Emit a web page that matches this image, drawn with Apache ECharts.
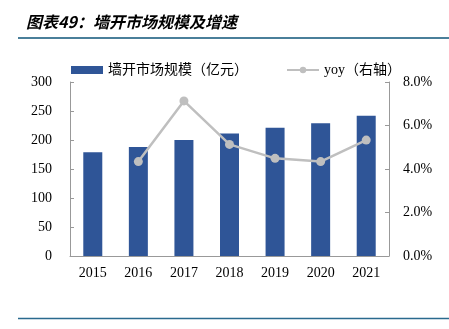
<!DOCTYPE html>
<html><head><meta charset="utf-8">
<script src="https://cdn.jsdelivr.net/npm/echarts@6/dist/echarts.min.js"></script>
<style>html,body{margin:0;padding:0;background:#fff}#c{width:449px;height:329px}</style>
</head><body><div id="c"></div>
<script>
const years = ['2015','2016','2017','2018','2019','2020','2021'];
const marketSize = [179, 188, 200, 211, 221, 229, 242];
const yoy = [null, 0.0434, 0.0713, 0.0513, 0.0449, 0.0434, 0.0533];
const leftTicks = {min: 0, max: 300, interval: 50};
const rightTicks = {min: 0, max: 0.08, interval: 0.02};

const chart = echarts.init(document.getElementById('c'), null, {renderer: 'canvas'});
const serif = '"Liberation Serif", "Times New Roman", serif';
const cjk = '"Liberation Serif", "Noto Sans CJK SC", serif';
chart.setOption({
  animation: false,
  title: {
    text: '图表49：墙开市场规模及增速',
    left: 21, top: 9,
    textStyle: {fontSize: 16, fontWeight: 'bold', fontStyle: 'italic', color: '#000', fontFamily: '"Noto Sans CJK SC", sans-serif'}
  },
  graphic: [
    {type: 'line', shape: {x1: 18, y1: 38, x2: 449, y2: 38}, style: {stroke: '#4a7f9a', lineWidth: 2}},
    {type: 'line', shape: {x1: 18, y1: 318.5, x2: 449, y2: 318.5}, style: {stroke: '#2a6a8e', lineWidth: 1.5}}
  ],
  legend: {
    top: 58, left: 66, itemGap: 38, itemWidth: 32, itemHeight: 8,
    textStyle: {fontSize: 14, fontFamily: cjk, color: '#000'},
    data: [
      {name: '墙开市场规模（亿元）', icon: 'rect'},
      {name: 'yoy（右轴）'}
    ]
  },
  grid: {left: 70, right: 60, top: 82, bottom: 73},
  xAxis: {
    type: 'category', data: years,
    axisLine: {lineStyle: {color: '#999'}},
    axisTick: {inside: true, length: 4, lineStyle: {color: '#999'}},
    axisLabel: {fontSize: 14, fontFamily: serif, color: '#000', margin: 10}
  },
  yAxis: [
    {type: 'value', min: leftTicks.min, max: leftTicks.max, interval: leftTicks.interval,
     axisLine: {show: true, lineStyle: {color: '#999'}},
     axisTick: {show: true, inside: true, length: 4, lineStyle: {color: '#999'}},
     splitLine: {show: false},
     axisLabel: {fontSize: 14, fontFamily: serif, color: '#000', margin: 18}},
    {type: 'value', min: rightTicks.min, max: rightTicks.max, interval: rightTicks.interval,
     axisLine: {show: true, lineStyle: {color: '#999'}},
     axisTick: {show: true, inside: true, length: 4, lineStyle: {color: '#999'}},
     splitLine: {show: false},
     axisLabel: {fontSize: 14, fontFamily: serif, color: '#000', margin: 14,
       formatter: v => (v * 100).toFixed(1) + '%'}}
  ],
  series: [
    {name: '墙开市场规模（亿元）', type: 'bar', data: marketSize, barWidth: 19,
     itemStyle: {color: '#2f5597'}},
    {name: 'yoy（右轴）', type: 'line', yAxisIndex: 1, data: yoy,
     symbol: 'circle', symbolSize: 9,
     lineStyle: {color: '#bfbfbf', width: 2.5}, itemStyle: {color: '#bfbfbf'}}
  ]
});
</script></body></html>
